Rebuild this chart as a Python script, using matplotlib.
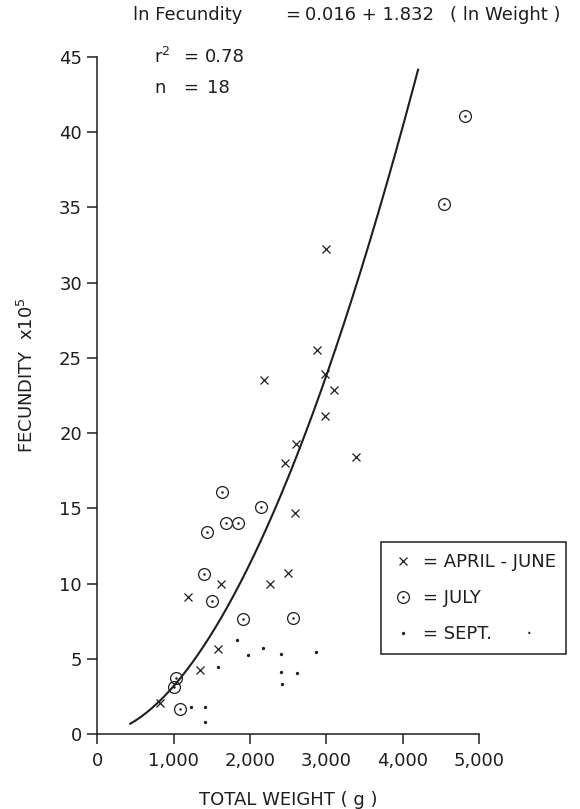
import numpy as np
import matplotlib
matplotlib.use("Agg")
import matplotlib.pyplot as plt
from matplotlib.lines import Line2D

# ---- data (weight in g, fecundity x10^5) ----
apr_jun_w = [822, 1339, 1579, 1194, 1619, 2262, 2493, 2594, 2463, 2608,
             2979, 3106, 2988, 2879, 2179, 3382, 2997]
apr_jun_f = [2.03, 4.28, 5.67, 9.14, 9.98, 9.98, 10.68, 14.70, 18.03, 19.25,
             21.17, 22.87, 23.93, 25.54, 23.53, 18.43, 32.25]

july_w = [1028, 1010, 1085, 1903, 2559, 1500, 1391, 1440, 1680, 1842,
          1636, 2148, 4546, 4812]
july_f = [3.75, 3.13, 1.63, 7.64, 7.70, 8.87, 10.64, 13.46, 14.02, 14.02,
          16.09, 15.12, 35.2, 41.1]

sept_w = [1225, 1417, 1417, 1575, 1829, 1973, 2170, 2406, 2406, 2423, 2612, 2865]
sept_f = [1.81, 1.81, 0.79, 4.44, 6.23, 5.25, 5.74, 5.30, 4.13, 3.31, 4.06, 5.43]

# regression: ln F = a + b ln W
INTERCEPT = 0.016
SLOPE = 1.832
fit_w_range = [420, 4205]

x_ticks = [0, 1000, 2000, 3000, 4000, 5000]
x_tick_labels = ["0", "1,000", "2,000", "3,000", "4,000", "5,000"]
y_ticks = [0, 5, 10, 15, 20, 25, 30, 35, 40, 45]

INK = "#1e1e1e"
FS = 13

plt.rcParams['font.family'] = ['DejaVu Sans']
fig = plt.figure(figsize=(5.8, 8.09), dpi=100)
fig.patch.set_facecolor("white")
ax = fig.add_axes([0.1678, 0.0927, 0.6581, 0.8368])

# fitted curve
w = np.linspace(fit_w_range[0], fit_w_range[1], 300)
f = np.exp(INTERCEPT + SLOPE * np.log(w)) / 1e5
ax.plot(w, f, color=INK, lw=1.5, solid_capstyle="butt")

# points
ax.plot(apr_jun_w, apr_jun_f, ls="none", marker="x", ms=6, mew=0.9, color=INK)
ax.plot(july_w, july_f, ls="none", marker="o", ms=8.5, mew=0.9, mfc="none", mec=INK)
ax.plot(july_w, july_f, ls="none", marker="o", ms=1.8, mew=0, color=INK)
ax.plot(sept_w, sept_f, ls="none", marker="o", ms=2.4, mew=0, color=INK)

ax.set_xlim(0, 5000)
ax.set_ylim(0, 45)
ax.set_xticks(x_ticks)
ax.set_xticklabels(x_tick_labels)
ax.set_yticks(y_ticks)
for s in ["top", "right"]:
    ax.spines[s].set_visible(False)
for s in ["left", "bottom"]:
    ax.spines[s].set_linewidth(1.1)
    ax.spines[s].set_color(INK)
ax.tick_params(axis="both", direction="out", length=7, width=1.1, color=INK,
               labelsize=FS, labelcolor=INK, pad=4)
ax.tick_params(axis="x", pad=6)

ax.set_xlabel("TOTAL WEIGHT ( g )", fontsize=FS, color=INK, labelpad=15)
fig.text(26.7 / 580, 1 - 375 / 809, "FECUNDITY  x10$^5$", rotation=90,
         ha="center", va="center", fontsize=FS, color=INK)

# equation text
yt = 1 - 15 / 809
fig.text(133 / 580, yt, "ln Fecundity", ha="left", va="center", fontsize=FS, color=INK)
fig.text(293 / 580, yt, "=", ha="center", va="center", fontsize=FS, color=INK)
fig.text(305 / 580, yt, "0.016 + 1.832", ha="left", va="center", fontsize=FS, color=INK)
fig.text(450 / 580, yt, "( ln Weight )", ha="left", va="center", fontsize=FS, color=INK)

fig.text(154 / 580, 1 - 57 / 809, "r$^2$", ha="left", va="center", fontsize=FS, color=INK)
fig.text(191 / 580, 1 - 57 / 809, "=", ha="center", va="center", fontsize=FS, color=INK)
fig.text(205 / 580, 1 - 57 / 809, "0.78", ha="left", va="center", fontsize=FS, color=INK)
fig.text(154 / 580, 1 - 88 / 809, "n", ha="left", va="center", fontsize=FS, color=INK)
fig.text(191 / 580, 1 - 88 / 809, "=", ha="center", va="center", fontsize=FS, color=INK)
fig.text(207 / 580, 1 - 88 / 809, "18", ha="left", va="center", fontsize=FS, color=INK)

# legend
h1 = Line2D([], [], ls="none", marker="x", ms=6, mew=0.9, color=INK)
h2a = Line2D([], [], ls="none", marker="o", ms=8.5, mew=0.9, mfc="none", mec=INK)
h2b = Line2D([], [], ls="none", marker="o", ms=1.8, mew=0, color=INK)
h3 = Line2D([], [], ls="none", marker="o", ms=2.4, mew=0, color=INK)
leg = ax.legend([h1, (h2a, h2b), h3],
                ["= APRIL - JUNE", "= JULY", "= SEPT.      \u00b7"],
                loc="upper left", bbox_to_anchor=(381 / 580, 1 - 542 / 809),
                bbox_transform=fig.transFigure, borderaxespad=0,
                fontsize=FS, frameon=True, fancybox=False, framealpha=1,
                edgecolor=INK, handlelength=1.2, handletextpad=0.5,
                borderpad=0.6, labelspacing=1.0)
leg.get_frame().set_linewidth(1.1)
for t in leg.get_texts():
    t.set_color(INK)

fig.savefig("out.png", dpi=100, facecolor="white")
